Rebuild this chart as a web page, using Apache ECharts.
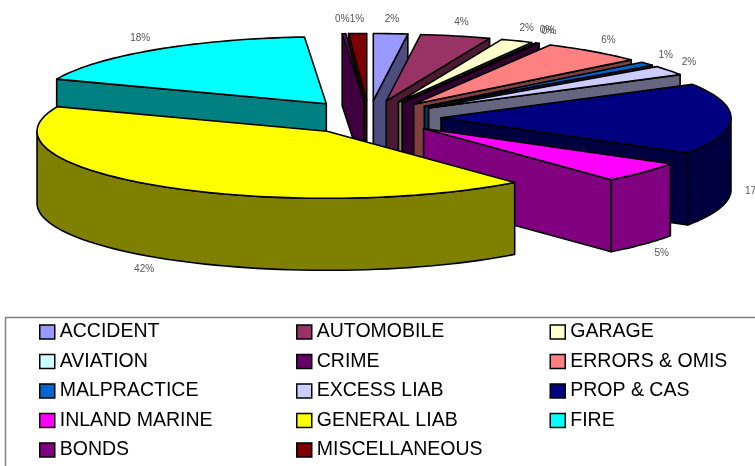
<!DOCTYPE html>
<html>
<head>
<meta charset="utf-8">
<style>
  html, body { margin: 0; padding: 0; background: #fff; }
  #chart { width: 755px; height: 466px; }
</style>
</head>
<body>
<div id="chart"></div>
<script src="https://cdn.jsdelivr.net/npm/echarts@6/dist/echarts.min.js"></script>
<script>
const categories = ['ACCIDENT', 'AUTOMOBILE', 'GARAGE', 'AVIATION', 'CRIME', 'ERRORS & OMIS', 'MALPRACTICE',
  'EXCESS LIAB', 'PROP & CAS', 'INLAND MARINE', 'GENERAL LIAB', 'FIRE', 'BONDS', 'MISCELLANEOUS'];
const shares = [1.9, 3.9, 1.8, 0.05, 0.15, 5.7, 0.9, 2.3, 17.1, 5.0, 42.2, 17.8, 0.2, 1.0];
const topColors = ['#9999FF', '#993366', '#FFFFCC', '#CCFFFF', '#660066', '#FF8080', '#0066CC',
  '#CCCCFF', '#000080', '#FF00FF', '#FFFF00', '#00FFFF', '#800080', '#800000'];
const legendColumns = [
  ['ACCIDENT', 'AVIATION', 'MALPRACTICE', 'INLAND MARINE', 'BONDS'],
  ['AUTOMOBILE', 'CRIME', 'EXCESS LIAB', 'GENERAL LIAB', 'MISCELLANEOUS'],
  ['GARAGE', 'ERRORS & OMIS', 'PROP & CAS', 'FIRE']
];

// the pie is drawn by hand, echarts has no 3d pie without the gl extension
const cx = 369, cy = 117.5;
const rx = 290, ry = 67;
const depth = 72;
const explodeX = 72, explodeY = 17;
const total = shares.reduce((a, b) => a + b, 0);

function darken(hex) {
  const n = parseInt(hex.slice(1), 16);
  const half = (v) => Math.round(v / 2);
  return `rgb(${half(n >> 16)},${half((n >> 8) & 255)},${half(n & 255)})`;
}

function slicePoint(apex, a) {
  return [apex[0] + rx * Math.sin(a), apex[1] - ry * Math.cos(a)];
}

function drop(p) {
  return [p[0], p[1] + depth];
}

function face(points, fill) {
  return {
    type: 'polygon',
    shape: {points},
    style: {fill, stroke: '#000', lineWidth: 1.6, lineJoin: 'round'}
  };
}

function renderSlice(start, color) {
  return function (params, api) {
    const share = api.value(0);
    const a0 = start / total * Math.PI * 2;
    const a1 = (start + share) / total * Math.PI * 2;
    const mid = (a0 + a1) / 2;
    const apex = [cx + explodeX * Math.sin(mid), cy - explodeY * Math.cos(mid)];
    const p0 = slicePoint(apex, a0);
    const p1 = slicePoint(apex, a1);
    const side = darken(color);
    const children = [];

    // radial walls, only the ones facing the viewer
    if (Math.cos(a0 - Math.PI / 2) < 0) {
      children.push(face([apex, p0, drop(p0), drop(apex)], side));
    }
    if (Math.cos(a1 + Math.PI / 2) < 0) {
      children.push(face([apex, p1, drop(p1), drop(apex)], side));
    }

    // outer wall on the front half
    const from = Math.max(a0, Math.PI / 2);
    const to = Math.min(a1, Math.PI * 1.5);
    if (to > from) {
      const upper = [];
      const lower = [];
      for (let i = 0; i <= 60; i++) {
        const p = slicePoint(apex, from + (to - from) * i / 60);
        upper.push(p);
        lower.unshift(drop(p));
      }
      children.push(face(upper.concat(lower), side));
    }

    // top face
    const top = [apex];
    const steps = Math.max(2, Math.ceil((a1 - a0) * 40));
    for (let i = 0; i <= steps; i++) {
      top.push(slicePoint(apex, a0 + (a1 - a0) * i / steps));
    }
    children.push(face(top, color));

    // percent label just outside the rim
    const lx = apex[0] + (rx + 24) * Math.sin(mid);
    const ly = apex[1] - (ry + 14) * Math.cos(mid) + (Math.cos(mid) < 0 ? depth : 0);
    children.push({
      type: 'text',
      style: {
        text: Math.round(share / total * 100) + '%',
        x: lx, y: ly,
        fill: '#555',
        font: '10px "Liberation Sans", Arial, sans-serif',
        align: 'center',
        verticalAlign: 'middle'
      }
    });
    return {type: 'group', children};
  };
}

// slices closest to the back of the pie are painted first
let running = 0;
const series = categories.map((name, i) => {
  const start = running;
  running += shares[i];
  const midAngle = (start + shares[i] / 2) / total * 360;
  const fromBack = Math.min(midAngle, 360 - midAngle);
  return {
    name,
    type: 'custom',
    coordinateSystem: 'none',
    silent: true,
    z: 2 + fromBack / 10,
    itemStyle: {color: topColors[i]},
    renderItem: renderSlice(start, topColors[i]),
    data: [[shares[i]]]
  };
});

const legendLefts = [39, 296, 549.5];
const legend = legendColumns.map((data, i) => ({
  data,
  orient: 'vertical',
  left: legendLefts[i],
  top: 322,
  height: 200,
  padding: 0,
  itemWidth: 15,
  itemHeight: 14,
  itemGap: 9.5,
  selectedMode: false,
  icon: 'rect',
  itemStyle: {borderColor: '#000', borderWidth: 1.5},
  textStyle: {
    color: '#000',
    fontFamily: '"Liberation Sans", Arial, sans-serif',
    fontSize: 19.5,
    padding: [0, 0, 3, 0]
  }
}));

const chart = echarts.init(document.getElementById('chart'));
chart.setOption({
  animation: false,
  backgroundColor: '#fff',
  legend,
  series,
  graphic: [{
    type: 'rect',
    silent: true,
    z: 0,
    shape: {x: 5.5, y: 317.5, width: 800, height: 200},
    style: {fill: 'none', stroke: '#808080', lineWidth: 1.5}
  }]
});
</script>
</body>
</html>
